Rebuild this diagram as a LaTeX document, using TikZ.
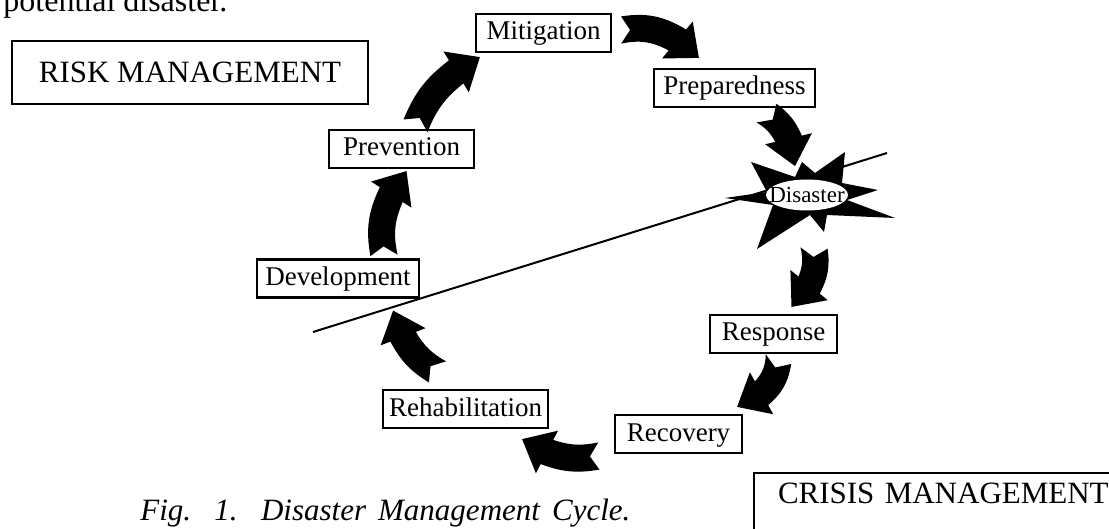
\documentclass[tikz,border=0pt]{standalone}
\usepackage{fontspec}
\setmainfont{Liberation Serif}
\usetikzlibrary{calc,shapes.geometric}

\tikzset{
  stage/.style={draw, line width=1.1pt, minimum height=19pt, inner xsep=1pt, inner ysep=0pt,
    text height=9.5pt, text depth=2.5pt, font=\fontsize{13.5}{15}\selectfont},
  bigbox/.style={draw, line width=1pt, font=\fontsize{15.5}{18}\selectfont},
}

% curved block arrow with notched tail: tail, tip, bend
\newcommand{\cyclearrow}[3]{%
  \fill let \p1=(#1), \p2=(#2),
    \n1={atan2(\y2-\y1,\x2-\x1)}, \n2={\n1+#3}, \n3={\n1-#3},
    \p3=($(\p2)+(\n3+180:14pt)$) in
    ($(\p1)+(\n2+90:6.8pt)$) to[bend left=#3] ($(\p3)+(\n3+90:6.8pt)$)
    -- ($(\p3)+(\n3+90:12pt)$) -- (\p2) -- ($(\p3)+(\n3-90:12pt)$)
    -- ($(\p3)+(\n3-90:6.8pt)$) to[bend right=#3] ($(\p1)+(\n2-90:6.8pt)$)
    -- ($(\p1)+(\n2:4.5pt)$) -- cycle;}

\begin{document}
\begin{tikzpicture}[x=0.5pt,y=-0.5pt]
    \path[use as bounding box, clip] (0,0) rectangle (1109,529);

    % draw text and titles
    \node[anchor=base west, inner sep=0pt, font=\fontsize{16}{18}\selectfont] (intro) at (3,12) {potential disaster.};
    \node[bigbox, minimum width=178pt, minimum height=31.5pt] (riskbox) at (190,72.5) {RISK MANAGEMENT};
    \node[bigbox, anchor=north west, text width=200pt, align=left, inner xsep=12pt, inner ysep=4pt,
      text height=11pt, text depth=40pt] (crisisbox) at (753,472) {CRISIS MANAGEMENT};
    \node[anchor=base west, inner sep=0pt, font=\itshape\fontsize{15.5}{18}\selectfont] (caption) at (140,520) {\makebox[245pt][s]{Fig. 1. Disaster Management Cycle.}};

    % draw dividing line
    \coordinate (divw) at (313,332);
    \coordinate (dive) at (887,153);
    \draw[line width=1pt] (divw) -- (dive);

    % draw disaster burst
    \coordinate (burst) at (807,195);
    \fill[shift={(burst)}] (-56,-33) -- (-12,-18) -- (-5,-33) -- (8,-22) -- (38,-43) -- (35,-12)
      -- (71,-5) -- (40,5) -- (88,23) -- (20,20) -- (17,37) -- (3,20) -- (-50,54) -- (-34,10)
      -- (-82,3) -- (-40,-3) -- cycle;
    \node[ellipse, fill=white, minimum width=41pt, minimum height=15.5pt, inner sep=0pt,
      text height=7.5pt, text depth=0pt, font=\fontsize{11.5}{13}\selectfont] (disaster) at (burst) {\makebox[0pt]{Disaster}};

    % draw stages
    \node[stage, minimum width=67.5pt] (mitigation) at (543.5,33) {Mitigation};
    \node[stage, minimum width=80.5pt] (preparedness) at (734.5,88) {Preparedness};
    \node[stage, minimum width=63.5pt] (response) at (773.5,334) {Response};
    \node[stage, minimum width=63.5pt] (recovery) at (678.5,434) {Recovery};
    \node[stage, minimum width=82.5pt] (rehab) at (465.5,409) {Rehabilitation};
    \node[stage, minimum width=81pt] (development) at (338,278.5) {Development};
    \node[stage, minimum width=72.5pt] (prevention) at (401.5,149) {Prevention};

    % draw arrows
    \cyclearrow{[shift={(46,-3)}]development.north}{[shift={(5,2)}]prevention.south}{18}
    \cyclearrow{[shift={(14,-3)}]prevention.north}{[shift={(5,4)}]mitigation.south west}{15}
    \cyclearrow{[shift={(9,-3)}]mitigation.east}{[shift={(46,-10)}]preparedness.north west}{20}
    \cyclearrow{[shift={(32,5)}]preparedness.south}{[shift={(-12,-29)}]burst}{15}
    \cyclearrow{[shift={(7,53)}]burst}{[shift={(18,-7)}]response.north}{18}
    \cyclearrow{[shift={(5,5)}]response.south}{[shift={(-6,-7)}]recovery.north east}{20}
    \cyclearrow{[shift={(-15,22)}]recovery.west}{[shift={(-27,10)}]rehab.south east}{15}
    \cyclearrow{[shift={(-28,-17)}]rehab.north}{[shift={(-27,12)}]development.south east}{15}
\end{tikzpicture}
\end{document}
